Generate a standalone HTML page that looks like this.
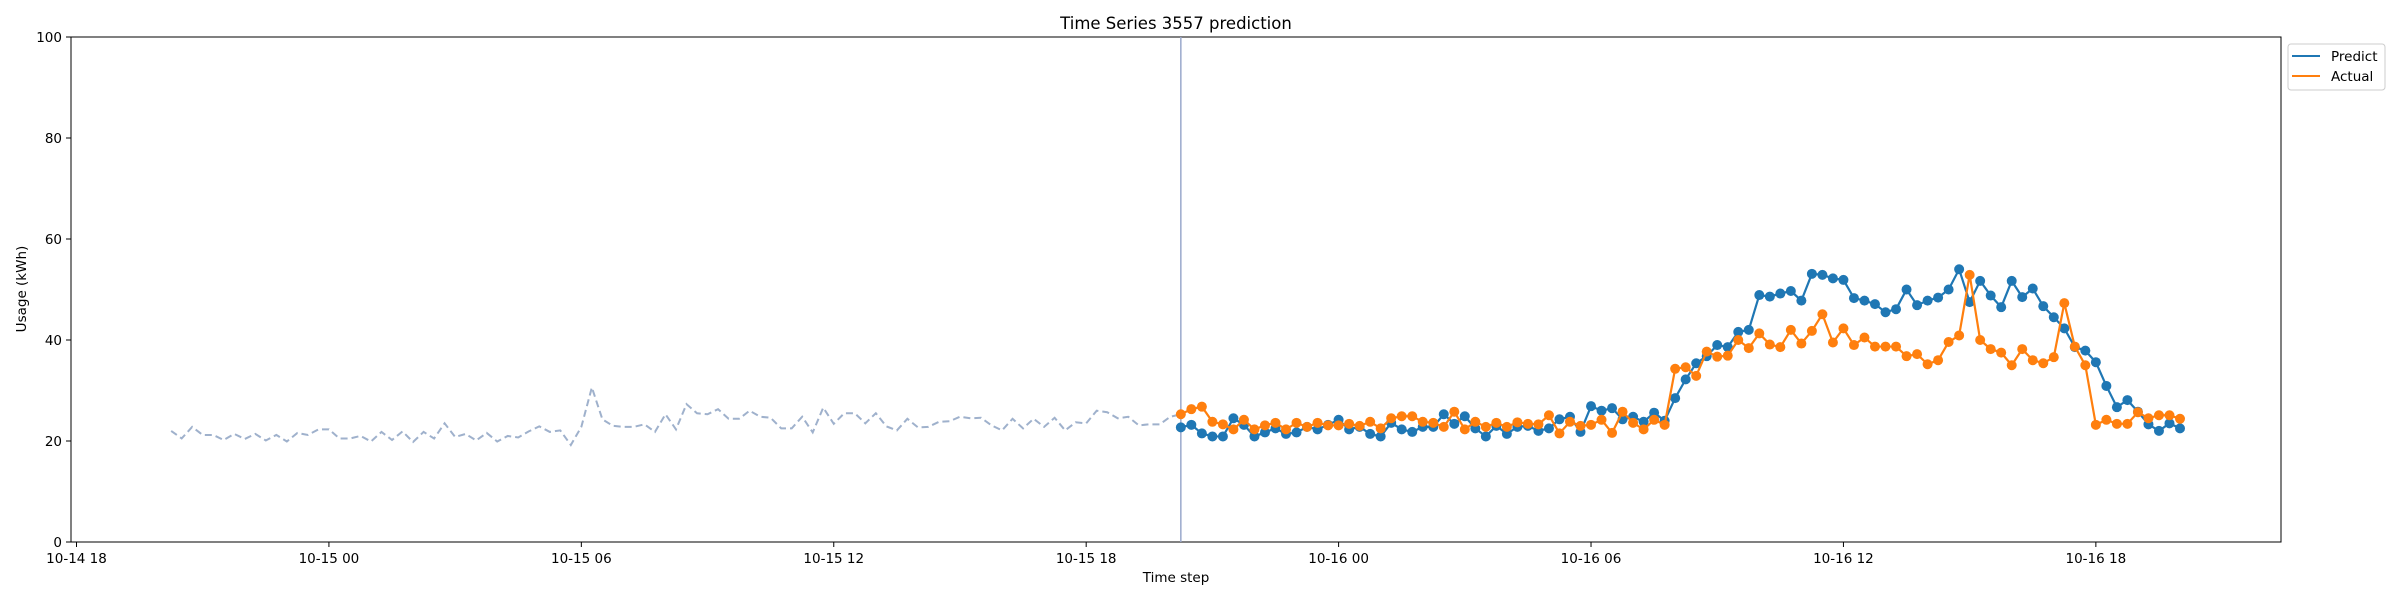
<!DOCTYPE html>
<html><head><meta charset="utf-8">
<style>
html,body{margin:0;padding:0;background:#fff;}
svg{display:block;font-family:"DejaVu Sans","Liberation Sans",sans-serif;}
</style></head>
<body>
<svg id="chart" width="2400" height="600" viewBox="0 0 2400 600" xmlns="http://www.w3.org/2000/svg">
<rect x="0" y="0" width="2400" height="600" fill="#fff"/>
<text x="1176" y="29" text-anchor="middle" font-size="16.5" fill="#000">Time Series 3557 prediction</text>
<g id="plot"></g>
<text x="1176" y="582" text-anchor="middle" font-size="13.5" fill="#000">Time step</text>
<text transform="translate(26,289) rotate(-90)" text-anchor="middle" font-size="13.5" fill="#000">Usage (kWh)</text>
<g>
<rect x="2288" y="44" width="97" height="46" rx="3" fill="#fff" stroke="#ccc" stroke-width="1"/>
<line x1="2292" y1="56" x2="2320" y2="56" stroke="#1f77b4" stroke-width="2"/>
<text x="2331" y="61" font-size="13.5" fill="#000">Predict</text>
<line x1="2292" y1="76" x2="2320" y2="76" stroke="#ff7f0e" stroke-width="2"/>
<text x="2331" y="81" font-size="13.5" fill="#000">Actual</text>
</g>
</svg>
<script>
const historyValues = [22.0,20.5,22.8,21.2,21.2,20.2,21.4,20.4,21.4,20.1,21.2,19.9,21.6,21.2,22.3,22.3,20.5,20.5,21.0,19.9,21.8,20.2,21.9,19.8,21.8,20.5,23.5,20.8,21.4,20.1,21.6,19.9,21.0,20.7,21.9,22.9,21.8,22.1,19.2,22.8,30.6,24.3,23.0,22.8,22.8,23.3,21.8,25.3,22.3,27.3,25.5,25.3,26.3,24.4,24.4,26.0,24.8,24.6,22.5,22.5,24.8,21.7,26.6,23.4,25.5,25.5,23.5,25.5,22.9,22.1,24.4,22.7,22.8,23.8,23.9,24.8,24.5,24.6,23.1,22.1,24.4,22.5,24.4,22.8,24.6,22.1,23.7,23.5,26.0,25.7,24.5,24.8,23.1,23.3,23.3,24.8];
const predictValues = [22.7,23.2,21.5,20.9,20.9,24.5,23.2,20.9,21.7,22.5,21.4,21.7,22.8,22.3,23.2,24.2,22.3,22.8,21.4,20.9,23.6,22.3,21.8,22.8,22.8,25.3,23.4,24.9,22.5,20.9,23.0,21.4,22.8,23.0,22.0,22.5,24.3,24.8,21.8,26.9,26.0,26.5,24.3,24.8,23.8,25.6,24.0,28.5,32.2,35.4,36.8,39.0,38.6,41.6,42.0,48.9,48.6,49.2,49.7,47.8,53.1,52.9,52.2,51.9,48.3,47.8,47.1,45.5,46.1,50.0,46.9,47.8,48.4,50.0,54.0,47.5,51.7,48.8,46.5,51.7,48.5,50.2,46.7,44.5,42.3,38.6,37.9,35.6,30.9,26.7,28.1,25.8,23.3,22.0,23.5,22.5];
const actualValues = [25.3,26.3,26.8,23.8,23.3,22.3,24.2,22.3,23.1,23.6,22.3,23.6,22.8,23.6,23.1,23.1,23.4,23.0,23.8,22.5,24.5,24.9,24.9,23.8,23.6,22.8,25.8,22.3,23.8,22.8,23.6,22.8,23.7,23.4,23.3,25.1,21.5,23.8,23.0,23.2,24.2,21.6,25.8,23.6,22.3,24.2,23.2,34.3,34.6,32.9,37.7,36.7,36.9,40.0,38.4,41.3,39.1,38.6,42.0,39.3,41.8,45.1,39.5,42.3,39.0,40.5,38.7,38.7,38.7,36.8,37.2,35.2,36.0,39.6,40.9,52.9,40.0,38.2,37.5,35.0,38.2,36.0,35.4,36.6,47.3,38.7,35.0,23.2,24.2,23.4,23.4,25.7,24.5,25.1,25.1,24.4];
const xTickLabels = ["10-14 18","10-15 00","10-15 06","10-15 12","10-15 18","10-16 00","10-16 06","10-16 12","10-16 18"];
const yTickValues = [0,20,40,60,80,100];
const historyStartHour = 2.25;   // hours after 10-14 18:00
const stepHours = 0.25;

const NS = "http://www.w3.org/2000/svg";
const L = 71, R = 2281, T = 37, B = 542;
const xScale = h => 76.5 + 42.07 * h;
const yScale = v => B - (v - 0) / (100 - 0) * (B - T);
const plot = document.getElementById('plot');
function mk(tag, attrs, parent) {
  const e = document.createElementNS(NS, tag);
  for (const k in attrs) e.setAttribute(k, attrs[k]);
  (parent || plot).appendChild(e);
  return e;
}
// axes frame
const frame = mk('rect', {x: L, y: T, width: R - L, height: B - T, fill: 'none', stroke: '#000', 'stroke-width': 1});


// y ticks
yTickValues.forEach(v => {
  const y = yScale(v);
  const t = mk('line', {x1: L - 5, y1: y, x2: L, y2: y, stroke: '#000', 'stroke-width': 1});
  
  
  const lb = mk('text', {x: L - 9, y: y + 5, 'text-anchor': 'end', 'font-size': 13.5, fill: '#000'});
  lb.textContent = v;
  
  
});
// x ticks
xTickLabels.forEach((s, i) => {
  const x = xScale(i * 6);
  const t = mk('line', {x1: x, y1: B, x2: x, y2: B + 5, stroke: '#000', 'stroke-width': 1});
  
  
  const lb = mk('text', {x: x, y: B + 21, 'text-anchor': 'middle', 'font-size': 13.5, fill: '#000'});
  lb.textContent = s;
  
  
});
// history
const nH = historyValues.length;
const predStart = historyStartHour + nH * stepHours;
let hp = historyValues.map((v, i) => xScale(historyStartHour + i * stepHours) + ',' + yScale(v));
hp.push(xScale(predStart) + ',' + yScale(actualValues[0]));
const hist = mk('polyline', {points: hp.join(' '), fill: 'none', stroke: '#9fb1cc', 'stroke-width': 2, 'stroke-dasharray': '7,4'});


// vertical divider
const vx = xScale(predStart);
const vl = mk('line', {x1: vx, y1: T, x2: vx, y2: B, stroke: '#9aa8cc', 'stroke-width': 1.5});


function series(vals, color, name) {
  const g = mk('g', {});
  
  
  const pts = vals.map((v, i) => xScale(predStart + i * stepHours) + ',' + yScale(v));
  const pl = mk('polyline', {points: pts.join(' '), fill: 'none', stroke: color, 'stroke-width': 2.2}, g);
  
  
  vals.forEach((v, i) => {
    const c = mk('circle', {cx: xScale(predStart + i * stepHours), cy: yScale(v), r: 5, fill: color}, g);
    
    
  });
}
series(predictValues, '#1f77b4', 'predict');
series(actualValues, '#ff7f0e', 'actual');
</script>
</body></html>
